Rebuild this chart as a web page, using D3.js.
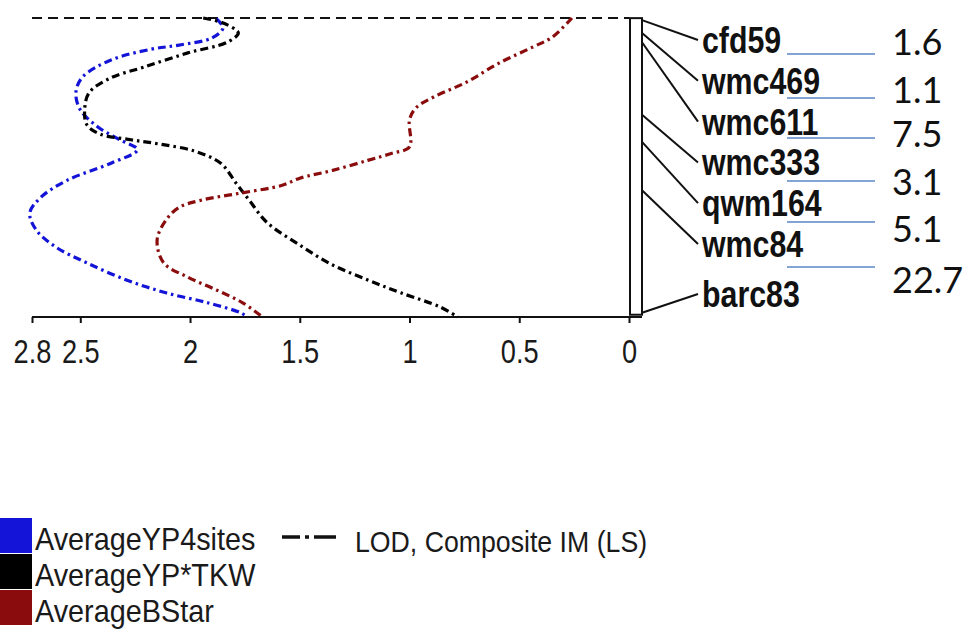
<!DOCTYPE html>
<html>
<head>
<meta charset="utf-8">
<script src="https://cdn.jsdelivr.net/npm/d3@7"></script>
<style>
  html, body { margin: 0; padding: 0; background: #fff; }
  svg { display: block; }
</style>
</head>
<body>
<svg id="chart" width="972" height="633"></svg>
<script>
// ---------- DATA ----------
// Positions along the linkage group (cM from top) and LOD values of each trait
const posYP4sites = [0.1, 1.4, 2.8, 3.8, 4.4, 5.9, 8.3, 10.5, 12.9, 15.3, 17.1, 18.5, 20.4, 22.8, 25.2, 27.4, 29.8, 32.2, 34.4, 36.8, 38.6, 40.0, 41.4, 42.0];
const lodYP4sites = [1.88, 1.85, 1.90, 2.05, 2.18, 2.36, 2.49, 2.52, 2.50, 2.42, 2.32, 2.24, 2.36, 2.56, 2.68, 2.73, 2.70, 2.61, 2.47, 2.29, 2.11, 1.92, 1.77, 1.74];

const posYPxTKW = [0.0, 0.7, 2.1, 3.4, 4.9, 6.9, 8.4, 10.5, 12.9, 15.0, 16.3, 17.1, 17.7, 18.7, 20.4, 23.2, 25.6, 28.7, 31.9, 34.7, 36.8, 38.6, 40.6, 42.0];
const lodYPxTKW = [1.94, 1.85, 1.78, 1.83, 2.01, 2.21, 2.36, 2.46, 2.48, 2.47, 2.41, 2.27, 2.14, 1.98, 1.86, 1.79, 1.73, 1.65, 1.50, 1.35, 1.19, 1.04, 0.86, 0.78];

const posBStar = [0.0, 2.7, 4.1, 6.3, 9.0, 11.1, 12.6, 14.3, 18.1, 19.0, 20.0, 21.4, 22.5, 23.5, 24.6, 25.6, 26.6, 28.4, 31.2, 34.4, 36.4, 38.2, 40.0, 42.0];
const lodBStar = [0.26, 0.35, 0.44, 0.59, 0.74, 0.89, 0.97, 1.00, 1.00, 1.08, 1.19, 1.35, 1.50, 1.58, 1.77, 1.95, 2.05, 2.11, 2.15, 2.12, 2.01, 1.88, 1.76, 1.67];

const seriesNames = ["AverageYP4sites", "AverageYP*TKW", "AverageBStar"];
const seriesColors = ["#1414d8", "#000000", "#8a0c0c"];

// Axis
const lodMax = 2.72;
const tickValues = [2.72, 2.5, 2, 1.5, 1, 0.5, 0];
const tickLabels = ["2.8", "2.5", "2", "1.5", "1", "0.5", "0"];
const mapLength = 42;

// Linkage map
const markerNames = ["cfd59", "wmc469", "wmc611", "wmc333", "qwm164", "wmc84", "barc83"];
const markerPos = [0.3, 2.1, 3.4, 13.6, 17.4, 24.2, 41.4];
const intervalLabels = ["1.6", "1.1", "7.5", "3.1", "5.1", "22.7"];

const lodLegendLabel = "LOD, Composite IM (LS)";

// ---------- DRAW ----------
const svg = d3.select("#chart");

const x = d3.scaleLinear().domain([lodMax, 0]).range([32, 629]);
const y = d3.scaleLinear().domain([0, mapLength]).range([18, 317]);

const sans = "'Liberation Sans', Arial, sans-serif";

// helper: horizontally condensed text (narrow face look)
function narrowText(g, tx, ty, str, size, sx, opts = {}) {
  const t = g.append("text")
    .attr("transform", `translate(${tx},${ty}) scale(${sx},1)`)
    .attr("font-family", sans)
    .attr("font-size", size)
    .attr("fill", opts.fill || "#1a1a1a")
    .attr("font-weight", opts.weight || "normal")
    .attr("text-anchor", opts.anchor || "start")
    .text(str);
  return t;
}

// top dashed line
svg.append("line")
  .attr("x1", x(lodMax)).attr("x2", x(0))
  .attr("y1", y(0)).attr("y2", y(0))
  .attr("stroke", "#111").attr("stroke-width", 2)
  .attr("stroke-dasharray", "10,6");

// curves
const series = [
  {name: seriesNames[0], color: seriesColors[0], pos: posYP4sites, lod: lodYP4sites},
  {name: seriesNames[1], color: seriesColors[1], pos: posYPxTKW, lod: lodYPxTKW},
  {name: seriesNames[2], color: seriesColors[2], pos: posBStar, lod: lodBStar}
];
const line = d3.line()
  .x(d => x(d[1]))
  .y(d => y(d[0]))
  .curve(d3.curveCatmullRom.alpha(0.5));

svg.append("g").selectAll("path")
  .data(series)
  .join("path")
  .attr("d", s => line(s.pos.map((p, i) => [p, s.lod[i]])))
  .attr("fill", "none")
  .attr("stroke", s => s.color)
  .attr("stroke-width", 3.2)
  .attr("stroke-dasharray", "8,4,2.5,4");

// x axis
const axis = d3.axisBottom(x)
  .tickValues(tickValues)
  .tickFormat("")
  .tickSize(6)
  .tickSizeOuter(0);
const gAxis = svg.append("g")
  .attr("transform", `translate(0,${y(mapLength)})`)
  .call(axis);
gAxis.select(".domain")
  .attr("d", `M${x(lodMax)},0H${x(0) + 13}`)
  .attr("stroke", "#111").attr("stroke-width", 2);
gAxis.selectAll(".tick line").attr("stroke", "#111").attr("stroke-width", 2);
gAxis.selectAll(".tick").each(function(d, i) {
  narrowText(d3.select(this), 0, 46, tickLabels[i], 34, 0.8, {anchor: "middle"});
});

// chromosome bar
const barX = 630, barW = 12;
svg.append("rect")
  .attr("x", barX).attr("y", y(markerPos[0]) - 2)
  .attr("width", barW)
  .attr("height", y(markerPos[markerPos.length - 1]) - y(markerPos[0]) + 4)
  .attr("fill", "#fff").attr("stroke", "#111").attr("stroke-width", 2);

// marker connectors + labels
const labelBase = d3.scaleLinear().domain([0, 5]).range([53, 257]);
const labelY = markerNames.map((m, i) => i < 6 ? labelBase(i) : 307);
const gm = svg.append("g");
markerNames.forEach((m, i) => {
  gm.append("line")
    .attr("x1", barX + barW).attr("y1", y(markerPos[i]))
    .attr("x2", 698).attr("y2", labelY[i] - 13)
    .attr("stroke", "#111").attr("stroke-width", 2);
  narrowText(gm, 702, labelY[i], m, 37, 0.82, {weight: "bold", fill: "#111"});
});

// interval separators and distances
const sepY = [54, 98, 138, 181, 222, 267];
const numY = [55, 103, 147, 195, 242, 293];
const gi = svg.append("g");
intervalLabels.forEach((t, i) => {
  gi.append("line")
    .attr("x1", 787).attr("x2", 875)
    .attr("y1", sepY[i]).attr("y2", sepY[i])
    .attr("stroke", "#5b87c5").attr("stroke-width", 1.3);
  gi.append("text")
    .attr("x", 892).attr("y", numY[i])
    .attr("font-family", "Lato, 'Open Sans', sans-serif")
    .attr("font-size", 36)
    .attr("fill", "#111")
    .text(t);
});

// legend
const gl = svg.append("g");
series.forEach((s, i) => {
  const top = 518 + i * 36;
  gl.append("rect")
    .attr("x", 0).attr("y", top)
    .attr("width", 32).attr("height", 35)
    .attr("fill", s.color);
  narrowText(gl, 35, top + 32, s.name, 32, 0.9);
});
gl.append("line")
  .attr("x1", 282).attr("x2", 336)
  .attr("y1", 537).attr("y2", 537)
  .attr("stroke", "#111").attr("stroke-width", 3.5)
  .attr("stroke-dasharray", "18,5,4,5,22");
narrowText(gl, 355, 552, lodLegendLabel, 30, 0.89);
</script>
</body>
</html>
